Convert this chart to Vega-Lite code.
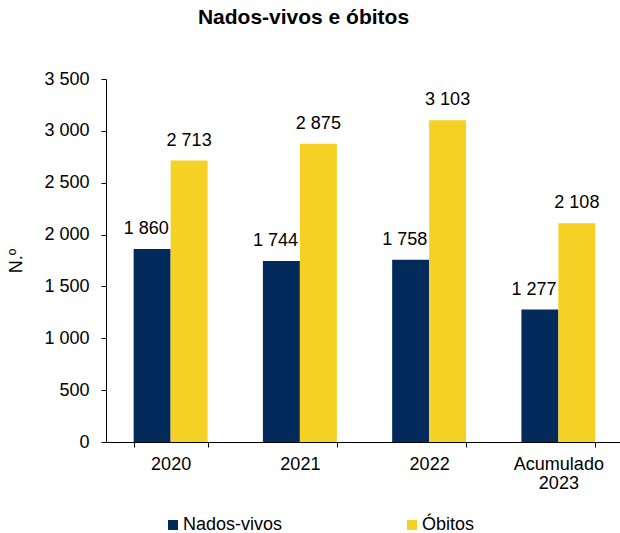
{
  "$schema": "https://vega.github.io/schema/vega-lite/v6.json",
  "width": 517,
  "height": 363,
  "autosize": {"type": "none"},
  "padding": {"top": 79, "left": 106, "right": 0, "bottom": 91},
  "background": "white",
  "config": {
    "locale": {"number": {"decimal": ",", "thousands": " ", "grouping": [3], "currency": ["", " €"]}},
    "font": "Liberation Sans",
    "view": {"stroke": null}
  },
  "title": {
    "text": "Nados-vivos e óbitos",
    "fontSize": 21,
    "fontWeight": "bold",
    "font": "Liberation Sans",
    "color": "#000000",
    "anchor": "middle",
    "baseline": "alphabetic",
    "offset": 25,
    "dx": -61
  },
  "data": {
    "values": [
      {"periodo": "2020", "serie": "Nados-vivos", "valor": 1860},
      {"periodo": "2020", "serie": "Óbitos", "valor": 2713},
      {"periodo": "2021", "serie": "Nados-vivos", "valor": 1744},
      {"periodo": "2021", "serie": "Óbitos", "valor": 2875},
      {"periodo": "2022", "serie": "Nados-vivos", "valor": 1758},
      {"periodo": "2022", "serie": "Óbitos", "valor": 3103},
      {"periodo": "Acumulado 2023", "serie": "Nados-vivos", "valor": 1277},
      {"periodo": "Acumulado 2023", "serie": "Óbitos", "valor": 2108}
    ]
  },
  "encoding": {
    "x": {
      "field": "periodo",
      "type": "nominal",
      "sort": null,
      "scale": {"paddingInner": 0.428, "paddingOuter": 0.214},
      "axis": {
        "title": null,
        "labelAngle": 0,
        "labelFontSize": 18,
        "labelColor": "#000000",
        "labelPadding": 8,
        "labelLineHeight": 19,
        "labelBaseline": "top",
        "labelExpr": "datum.value == 'Acumulado 2023' ? ['Acumulado', '2023'] : datum.value",
        "tickBand": "extent",
        "tickSize": 5,
        "tickColor": "#000000",
        "domainColor": "#000000",
        "grid": false
      }
    },
    "xOffset": {"field": "serie", "type": "nominal", "scale": {"domain": ["Nados-vivos", "Óbitos"], "paddingInner": 0, "paddingOuter": 0}},
    "y": {
      "field": "valor",
      "type": "quantitative",
      "scale": {"domain": [0, 3500], "nice": false},
      "axis": {
        "title": "N.º",
        "titleFontSize": 18,
        "titleFontWeight": "normal",
        "titleColor": "#000000",
        "titlePadding": 18,
        "values": [0, 500, 1000, 1500, 2000, 2500, 3000, 3500],
        "format": ",d",
        "labelFontSize": 18,
        "labelColor": "#000000",
        "labelPadding": 12,
        "tickSize": 5,
        "tickColor": "#000000",
        "domainColor": "#000000",
        "grid": false
      }
    }
  },
  "layer": [
    {
      "mark": {"type": "bar"},
      "encoding": {
        "color": {
          "field": "serie",
          "type": "nominal",
          "scale": {"domain": ["Nados-vivos", "Óbitos"], "range": ["#022b5b", "#f4d124"]},
          "legend": {
            "title": null,
            "orient": "none",
            "direction": "horizontal",
            "legendX": 58,
            "legendY": 437,
            "symbolType": "square",
            "symbolSize": 100,
            "symbolStrokeWidth": 0,
            "labelFontSize": 18,
            "labelColor": "#000000",
            "labelOffset": 1,
            "labelLimit": 300,
            "columnPadding": 120
          }
        }
      }
    },
    {
      "transform": [{"filter": "datum.serie == 'Nados-vivos'"}],
      "mark": {"type": "text", "baseline": "alphabetic", "dy": -15, "dx": -6, "fontSize": 18, "color": "#000000"},
      "encoding": {"text": {"field": "valor", "type": "quantitative", "format": ",d"}}
    },
    {
      "transform": [{"filter": "datum.serie == 'Óbitos'"}],
      "mark": {"type": "text", "baseline": "alphabetic", "dy": -15, "fontSize": 18, "color": "#000000"},
      "encoding": {"text": {"field": "valor", "type": "quantitative", "format": ",d"}}
    }
  ]
}
